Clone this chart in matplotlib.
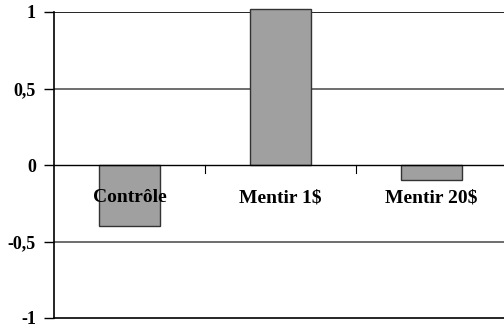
import matplotlib.pyplot as plt

categories = ['Contrôle', 'Mentir 1$', 'Mentir 20$']
values = [-0.40, 1.02, -0.10]
y_ticks = [-1, -0.5, 0, 0.5, 1]
y_labels = ['-1', '-0,5', '0', '0,5', '1']

plt.rcParams['font.family'] = ['Liberation Serif', 'DejaVu Serif']

fig = plt.figure(figsize=(5.04, 3.31), dpi=100)
ax = fig.add_axes([54 / 504, 13 / 331, 453 / 504, 306 / 331])

x = list(range(len(categories)))

# horizontal grid lines
for yv in [0.5, -0.5]:
    ax.axhline(yv, color='#555555', linewidth=1.2, zorder=1)
ax.axhline(1, color='black', linewidth=1.2, zorder=1)
ax.axhline(0, color='black', linewidth=1.0, zorder=3)

bars = ax.bar(x, values, width=0.4, color='#a0a0a0', edgecolor='#333333',
              linewidth=1.0, zorder=2)
for b in bars:
    b.set_clip_on(False)

ax.set_xlim(-0.5, 2.5)
ax.set_ylim(-1, 1)

# category labels under the zero line
for xi, name in zip(x, categories):
    ax.text(xi, -0.215, name, ha='center', va='center', fontsize=14,
            fontweight='bold', zorder=4)

# small separator ticks on the zero line
for xb in [0.5, 1.5]:
    ax.plot([xb, xb], [0, -0.05], color='black', linewidth=0.8, zorder=3)

ax.set_xticks([])
ax.set_yticks(y_ticks)
ax.set_yticklabels(y_labels, fontsize=13, fontweight='bold')
ax.tick_params(axis='y', length=7, width=1, direction='out', pad=6)

ax.spines['top'].set_visible(False)
ax.spines['right'].set_visible(False)
ax.spines['left'].set_linewidth(1.2)
ax.spines['bottom'].set_linewidth(1.2)

plt.savefig('out.png', dpi=100)
